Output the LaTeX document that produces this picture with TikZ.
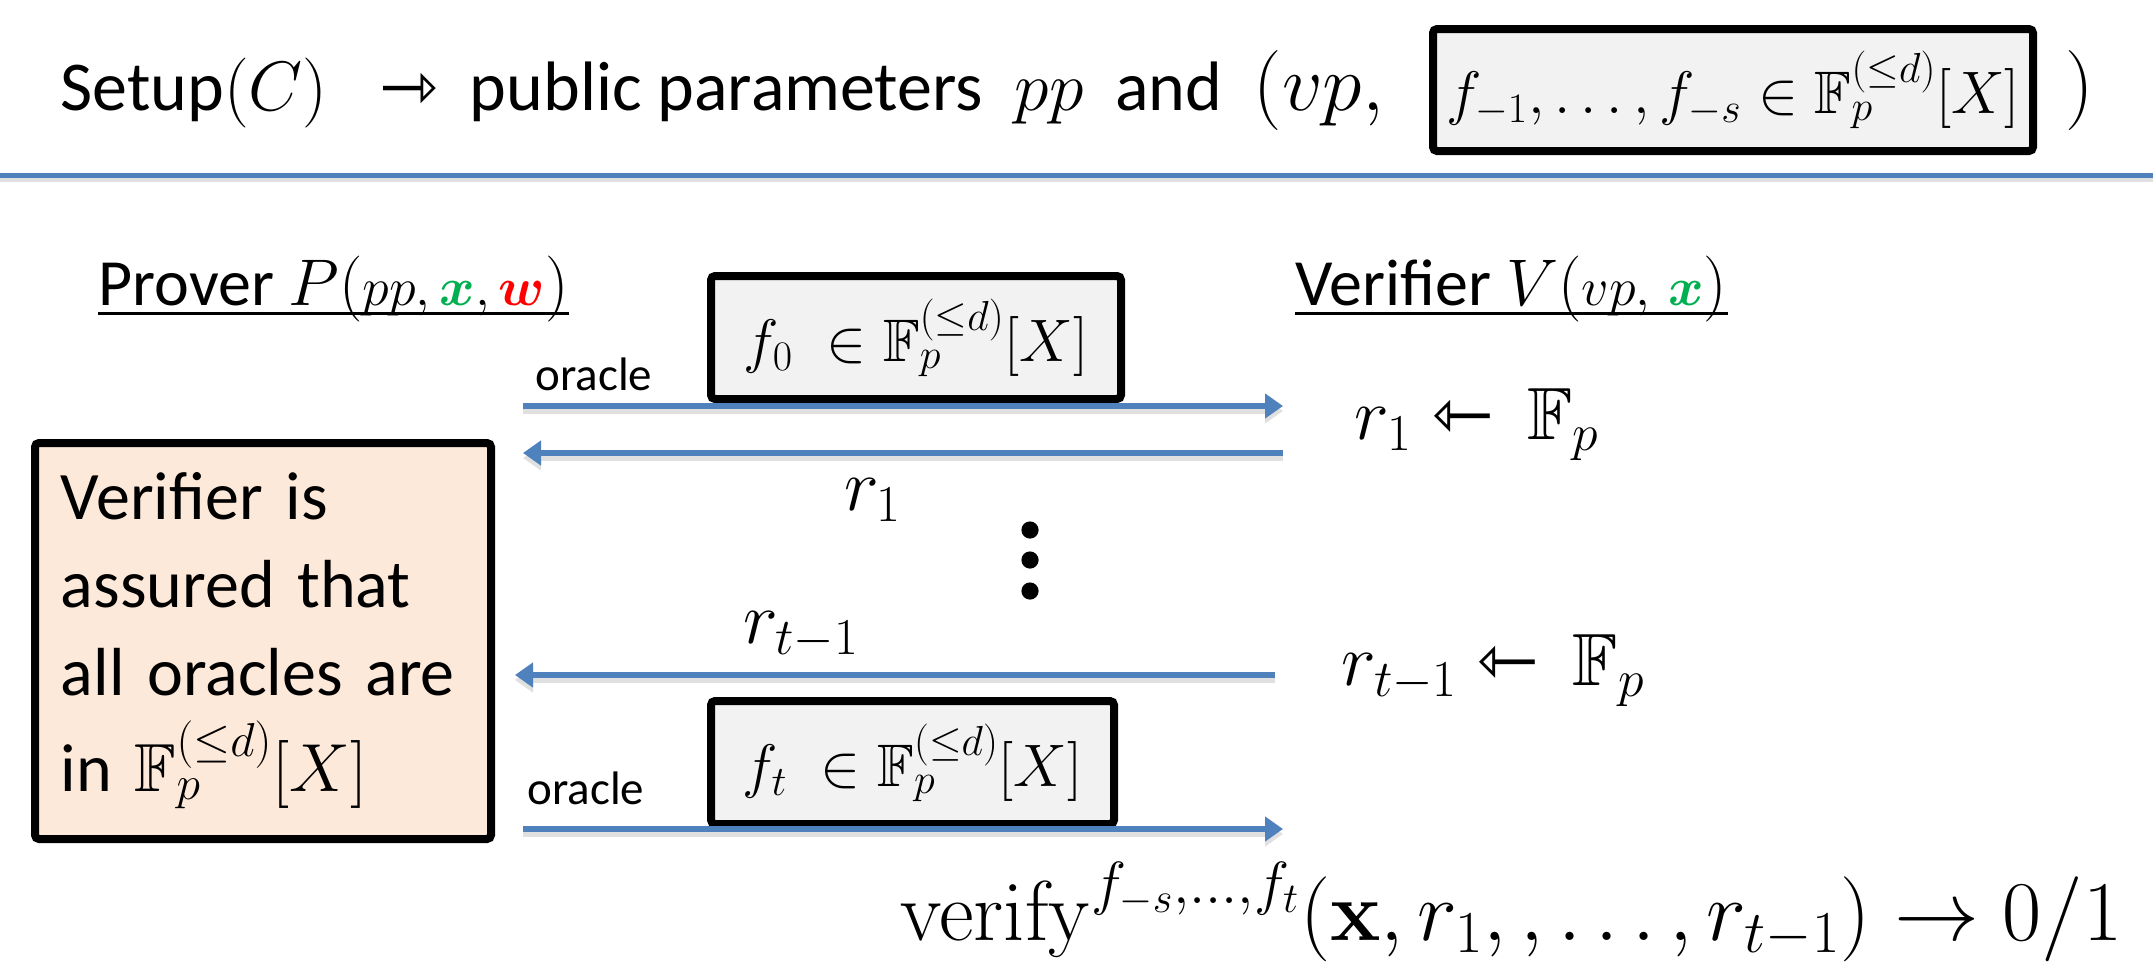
\RequirePackage{fix-cm}
\documentclass[tikz,border=0pt]{standalone}
\usepackage{amsmath,amssymb}
\usepackage[no-math]{fontspec}
\setmainfont{Carlito}
\newfontfamily\arrowfont{DejaVu Sans}
\usetikzlibrary{positioning,arrows.meta}
\definecolor{flowblue}{HTML}{4F81BD}
\definecolor{polygray}{HTML}{F2F2F2}
\definecolor{notepeach}{HTML}{FDE9D9}
\definecolor{instgreen}{HTML}{00B050}
\definecolor{witred}{HTML}{FF0000}
\newcommand{\polyring}{\mathbb{F}_p^{(\leq d)}[X]}
\newcommand{\sampfrom}{\mathrel{\text{\arrowfont ⇽}}\,}
\newcommand{\setupto}{{\arrowfont ⇾}}
\newcommand{\argsize}{\fontsize{27}{32}\selectfont}
\newcommand{\rolesize}{\fontsize{33}{40}\selectfont}
\tikzset{>=latex,
  flow/.style={draw=flowblue,line width=3pt,-{Triangle[length=9pt,width=12pt]},
    preaction={draw=black!12,line width=3pt,transform canvas={yshift=-2.5pt}}},
  polybox/.style={draw=black,line width=4pt,fill=polygray,rounded corners=2pt,
    inner sep=0pt,font=\fontsize{30}{36}\selectfont},
  notebox/.style={draw=black,line width=4pt,fill=notepeach,rounded corners=2pt,
    inner xsep=13pt,align=left,font=\fontsize{34}{44}\selectfont},
  headtxt/.style={inner sep=0pt,font=\fontsize{35}{42}\selectfont},
  roletxt/.style={inner sep=0pt,font=\rolesize},
  oracletxt/.style={inner sep=0pt,font=\fontsize{23.5}{28}\selectfont},
  msgtxt/.style={inner sep=0pt,font=\fontsize{37}{44}\selectfont},
  uline/.style={line width=1.5pt}}

\begin{document}
\begin{tikzpicture}[x=0.5pt,y=-0.5pt]
  \useasboundingbox (0,0) rectangle (2153,980);
  % setup line
  \node [headtxt,anchor=base west] (setup) at (60,110)
    {Setup$(C)$\hspace{26pt}\setupto\ \ public parameters \ $pp$ \ and \ {\fontsize{40}{48}\selectfont$(vp,$}};
  \node [polybox,anchor=north west,minimum width=300pt,minimum height=61pt] (vkpoly) at (1429,25)
    {$f_{-1},\ldots,f_{-s}\in\polyring$};
  \node [headtxt,right=14pt of vkpoly] (close) {\fontsize{40}{48}\selectfont$)$};
  \draw [draw=black!12,line width=2.5pt] (0,179) -- (2153,179);
  \draw [draw=flowblue,line width=2.5pt] (0,175) -- (2153,175);

  % parties
  \node [roletxt,anchor=base west] (prover) at (98,305)
    {Prover $P($\argsize$pp,\textcolor{instgreen}{\boldsymbol{x}},\textcolor{witred}{\boldsymbol{w}}$\rolesize$)$};
  \node [roletxt,anchor=base west] (verifier) at (1295,305)
    {Verifier $V($\argsize$vp,\,\textcolor{instgreen}{\boldsymbol{x}}$\rolesize$)$};
  \draw [uline] ([yshift=-4pt]prover.base west) -- ([yshift=-4pt]prover.base east);
  \draw [uline] ([yshift=-4pt]verifier.base west) -- ([yshift=-4pt]verifier.base east);

  % message ends
  \coordinate (p1) at (523,406);
  \coordinate (v1) at (1283,406);
  \coordinate (p2) at (523,453);
  \coordinate (v2) at (1283,453);
  \coordinate (p3) at (515,675);
  \coordinate (v3) at (1275,675);
  \coordinate (p4) at (523,829);
  \coordinate (v4) at (1283,829);

  % rounds
  \node [polybox,anchor=north west,minimum width=205pt,minimum height=61.5pt] (f0) at (707,272)
    {$f_0\;\in\polyring$};
  \node [oracletxt,anchor=base west] (orc0) at ([xshift=6pt,yshift=8pt]p1) {oracle};
  \draw [flow] (p1) -- (v1);
  \node [msgtxt,anchor=base west] (samp1) at (1354,439) {$r_1\sampfrom\mathbb{F}_p$};
  \draw [flow] (v2) -- (p2);
  \node [msgtxt,anchor=base] (r1) at (873,510) {$r_1$};
  \foreach \dy in {530,560,591}
    \fill (1030,\dy) circle [radius=4.3pt];
  \node [msgtxt,anchor=base] (rt) at (801,643) {$r_{t-1}$};
  \node [msgtxt,anchor=base west] (samp2) at (1341,685) {$r_{t-1}\sampfrom\mathbb{F}_p$};
  \draw [flow] (v3) -- (p3);
  \node [polybox,anchor=north west,minimum width=201.5pt,minimum height=61.5pt] (ft) at (707,697)
    {$f_t\;\in\polyring$};
  \node [oracletxt,anchor=base west] (orc1) at ([xshift=2pt,yshift=12.5pt]p4) {oracle};
  \draw [flow] (p4) -- (v4);

  % assurance and decision
  \node [notebox,anchor=north west,minimum width=228pt,minimum height=198pt,text width=202pt] (note) at (31,439)
    {Verifier is\\assured that\\all oracles are\\[4pt]in $\polyring$};
  \node [inner sep=0pt,anchor=base west,font=\fontsize{42.5}{50}\selectfont] (verify) at (900,940)
    {$\mathrm{verify}^{f_{-s},\ldots,f_t}(\mathbf{x},r_1,,\ldots,r_{t-1})\rightarrow 0/1$};
\end{tikzpicture}
\end{document}
